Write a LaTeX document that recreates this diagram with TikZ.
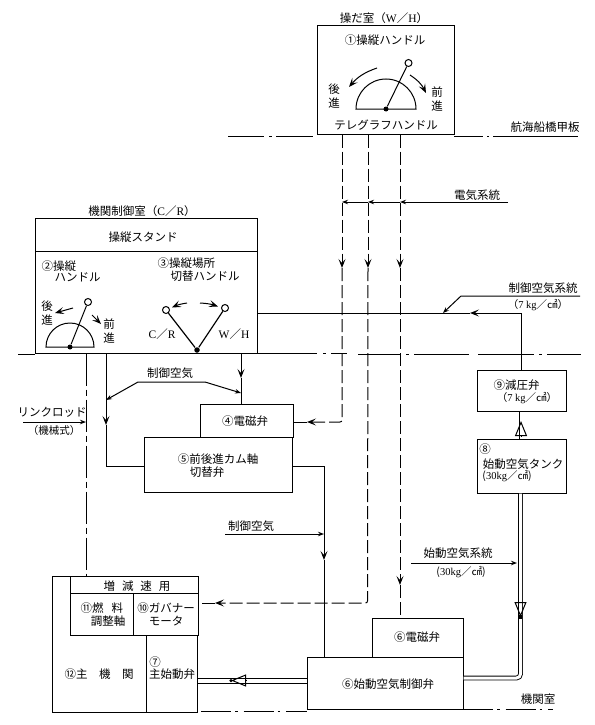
\documentclass[tikz,border=0pt]{standalone}
\usepackage{fontspec}
\usepackage{xcolor}
\usetikzlibrary{arrows.meta, positioning, calc}
\setmainfont{Noto Sans CJK JP}
\newfontfamily\latn{Liberation Serif}
\tikzstyle{plate} = [rectangle, draw, inner sep=0pt, fill=white, line width=1pt]
\tikzstyle{lbl}   = [inner sep=0pt, align=center, font=\fontsize{11.5}{14.5}\selectfont]
\tikzstyle{small} = [inner sep=0pt, align=center, font=\fontsize{10.5}{12}\selectfont]
\tikzstyle{vee}   = [-{Stealth[length=9pt,width=7pt,inset=4pt]}]
\tikzstyle{tick}  = [-{Stealth[length=6pt,width=4.5pt]}]

\begin{document}
\begin{tikzpicture}[
  x=1pt, y=-1pt, line width=1pt,
  elec/.style={dash pattern=on 13pt off 4pt},
  deckline/.style={dash pattern=#1},
  deckshort/.style={dash pattern=on 30pt off 4pt on 2.5pt off 6pt},
  rodline/.style={dash pattern=on 32pt off 4pt on 6pt off 4pt},
  pipe/.style={double, double distance=3pt, line width=0.9pt},
  hollow/.style={-{Triangle[open,length=15pt,width=12pt]}},
  knob/.style={circle, draw, fill=white, inner sep=0pt, minimum size=7pt},
  hub/.style={circle, fill=black, inner sep=0pt, minimum size=5pt}
]
  \useasboundingbox (0,0) rectangle (594,725);

  % Deck lines
  \coordinate (deckAl) at (228,136);
  \coordinate (deckAm) at (313,136);
  \coordinate (deckAr) at (454,136);
  \coordinate (deckAe) at (578,136);
  \coordinate (deckBl) at (18,354);
  \coordinate (deckBm) at (347,353);
  \coordinate (deckBn) at (358,354);
  \coordinate (deckBe) at (581,354);
  \coordinate (deckCa) at (201,711);
  \coordinate (deckCb) at (463,709);
  \coordinate (deckCe) at (553,709);
  \draw[deckline={on 36pt off 5pt on 3pt off 4pt on 60pt off 1pt}] (deckAl) -- (deckAm);
  \draw[deckline={on 29pt off 4pt on 2pt off 4pt on 100pt off 1pt}] (deckAr) -- (deckAe);
  \draw (deckBl) -- (35,354);
  \draw[deckline={on 60pt off 6pt on 3pt off 5pt on 30pt off 1pt}] (257,353) -- (deckBm);
  \draw[deckline={on 42pt off 6pt on 3pt off 5pt on 55pt off 9pt on 56pt off 5pt on 3pt off 5pt on 40pt off 1pt}] (deckBn) -- (deckBe);
  \draw[deckshort] (deckCa) -- (307,711);
  \draw[deckshort] (deckCb) -- (deckCe);

  % Bridge stand
  \node[plate, minimum width=137pt, minimum height=108pt] (bridge) at (385.5,80) {};
  \node[lbl] (bridgeT) at (384,18) {操だ室（{\latn W}／{\latn H}）};
  \node[lbl] (bridgeH) at (385,40) {①操縦ハンドル};
  \node[lbl] (bridgeN) at (386,125) {テレグラフハンドル};
  \node[lbl] (bridgeB) at (334,96) {後\\進};
  \node[lbl] (bridgeF) at (437,99) {前\\進};
  \draw (356,109) arc[start angle=180, end angle=0, radius=30pt] -- cycle;
  \node[hub] (bridgeHub) at (386,109) {};
  \node[knob] (bridgeKnob) at (408.5,63) {};
  \draw (bridgeHub) -- (bridgeKnob);
  \coordinate (ba1) at (377,68); \coordinate (ba2) at (349,87);
  \coordinate (ba3) at (410,75); \coordinate (ba4) at (426,93);
  \draw[vee] (ba1) to[bend right=15] (ba2);
  \draw[vee] (ba3) to[bend left=15] (ba4);

  % Control room stand
  \node[plate, minimum width=222pt, minimum height=135pt] (stand) at (146,285.5) {};
  \node[plate, minimum width=222pt, minimum height=33pt] (standTop) at (146,234.5) {};
  \node[lbl] (standT) at (142,211) {機関制御室（{\latn C}／{\latn R}）};
  \node[lbl] (standN) at (143,237) {操縦スタンド};
  \node[lbl, anchor=west] (standHa) at (41,266) {②操縦};
  \node[lbl, anchor=west] (standHb) at (54,277.5) {ハンドル};
  \node[lbl, anchor=west] (standSa) at (157,263) {③操縦場所};
  \node[lbl, anchor=west] (standSb) at (170,276) {切替ハンドル};
  \node[lbl] (standB) at (47,313) {後\\進};
  \node[lbl] (standF) at (109,331) {前\\進};
  \draw (46,347) arc[start angle=180, end angle=0, radius=24pt] -- cycle;
  \node[hub] (standHub) at (70,347) {};
  \node[knob] (standKnob) at (88,302) {};
  \draw (standHub) -- (standKnob);
  \coordinate (sa1) at (73,308); \coordinate (sa2) at (55,313);
  \coordinate (sa3) at (92,315); \coordinate (sa4) at (101,324);
  \draw[vee] (sa1) -- (sa2);
  \draw[vee] (sa3) -- (sa4);

  \node[hub, minimum size=5.5pt] (vHub) at (197,350) {};
  \node[knob] (vLeft) at (166,310) {};
  \node[knob] (vRight) at (225,308) {};
  \draw[line width=1.2pt] (vHub) -- (vLeft);
  \draw[line width=1.2pt] (vHub) -- (vRight);
  \coordinate (va1) at (187,303); \coordinate (va2) at (172,307.5);
  \coordinate (va3) at (200,303); \coordinate (va4) at (218,306.5);
  \draw[vee] (va1) to[bend right=8] (va2);
  \draw[vee] (va3) to[bend left=8] (va4);
  \node[lbl] (vCR) at (162,334) {{\latn C}／{\latn R}};
  \node[lbl] (vWH) at (234,334) {{\latn W}／{\latn H}};

  % Valves
  \node[plate, minimum width=93pt, minimum height=33pt] (sol) at (246.5,420.5) {};
  \node[lbl] (solN) at (245,421) {④電磁弁};
  \node[plate, minimum width=148pt, minimum height=55pt] (cam) at (218,464.5) {};
  \node[lbl] (camA) at (218,459) {⑤前後進カム軸};
  \node[lbl] (camB) at (207,472) {切替弁};

  \node[plate, minimum width=89pt, minimum height=41pt] (reducer) at (521.5,390.5) {};
  \node[lbl, anchor=west] (reducerA) at (493,385) {⑨減圧弁};
  \node[small] (reducerB) at (527,398) {（{\latn 7 kg}／㎠）};
  \node[plate, minimum width=89pt, minimum height=54pt] (tank) at (521.5,466) {};
  \node[lbl] (tankA) at (485,449) {⑧};
  \node[lbl] (tankB) at (523,464) {始動空気タンク};
  \node[small] (tankC) at (507,476.5) {({\latn 30kg}／㎠)};

  \node[plate, minimum width=91pt, minimum height=39pt] (startSol) at (417.5,637.5) {};
  \node[lbl] (startSolN) at (417,637) {⑥電磁弁};
  \node[plate, minimum width=156pt, minimum height=52pt] (startCtl) at (385,683) {};
  \node[lbl] (startCtlN) at (388,684) {⑥始動空気制御弁};

  % Main engine
  \node[plate, minimum width=145.5pt, minimum height=136pt] (engine) at (124.75,644) {};
  \node[plate, minimum width=128pt, minimum height=17pt] (speed) at (134,584.5) {};
  \node[plate, minimum width=63pt, minimum height=42pt] (shaft) at (101.5,614) {};
  \node[plate, minimum width=65pt, minimum height=42pt] (gov) at (165.5,614) {};
  \node[plate, minimum width=51.5pt, minimum height=77pt] (mainValve) at (171.75,673.5) {};
  \node[lbl] (speedN) at (137,586) {増\hspace{0.6em}減\hspace{0.6em}速\hspace{0.6em}用};
  \node[lbl, anchor=west] (shaftA) at (80,608) {⑪燃\hspace{0.7em}料};
  \node[lbl] (shaftB) at (108,621) {調整軸};
  \node[lbl] (govA) at (166,608) {⑩ガバナー};
  \node[lbl] (govB) at (166,621) {モータ};
  \node[lbl] (engineN) at (99,674) {⑫主\hspace{1em}機\hspace{1em}関};
  \node[lbl] (mainValveA) at (155,662) {⑦};
  \node[lbl] (mainValveB) at (172,674) {主始動弁};

  % Electric signal lines
  \coordinate (e1) at (342,268); \coordinate (e2) at (368,268); \coordinate (e3) at (400,268);
  \coordinate (e1c) at (342,422); \coordinate (e1t) at (307,422);
  \coordinate (e2c) at (367.5,603); \coordinate (e2t) at (215,603); \coordinate (e2e) at (200,603);
  \coordinate (e3t) at (400,585);
  \draw[elec, vee] (bridge.south -| e1) -- (e1);
  \draw[elec, vee] (bridge.south -| e2) -- (e2);
  \draw[elec, vee] (bridge.south -| e3) -- (e3);
  \draw[elec, vee, rounded corners=2pt] (e1) -- (e1c) -- (e1t);
  \draw[elec] (e1t) -- (sol.east |- e1t);
  \draw[elec, vee, rounded corners=2pt] (e2) -- (e2c) -- (e2t);
  \draw[elec] (e2t) -- (e2e);
  \draw[elec, vee] (e3) -- (e3t);
  \draw[elec] (e3t) -- (startSol.north -| e3t);

  \node[lbl] (elecN) at (477,195) {電気系統};
  \coordinate (elecS) at (508,202);
  \coordinate (elecA) at (400,202); \coordinate (elecB) at (368,202); \coordinate (elecC) at (342,202);
  \draw[tick] (elecS) -- (elecA);
  \draw[tick] (elecA) -- (elecB);
  \draw[tick] (elecB) -- (elecC);

  % Control air
  \coordinate (airC) at (521,313); \coordinate (airT) at (470,313);
  \draw (reducer.north -| airC) -- (airC);
  \draw[vee] (airC) -- (airT);
  \draw (airT) -- (stand.east |- airT);
  \node[lbl] (airN) at (543,288) {制御空気系統};
  \node[small] (airV) at (538,305) {（{\latn 7 kg}／㎠）};
  \coordinate (airLa) at (580,296); \coordinate (airLb) at (461,296); \coordinate (airLc) at (443,313);
  \draw[tick] (airLa) -- (airLb) -- (airLc);

  \coordinate (toSol) at (241,378);
  \draw[vee] (stand.south -| toSol) -- (toSol);
  \draw (toSol) -- (sol.north -| toSol);
  \coordinate (toCam) at (106,425); \coordinate (camIn) at (106,466);
  \draw[vee] (stand.south -| toCam) -- (toCam);
  \draw (toCam) -- (camIn) -- (cam.west |- camIn);
  \node[lbl] (ctlN) at (170,373) {制御空気};
  \coordinate (ctlLa) at (138,382); \coordinate (ctlLb) at (205,382);
  \coordinate (ctlLc) at (106,400); \coordinate (ctlLd) at (241,393);
  \draw[tick] (ctlLa) -- (ctlLc);
  \draw[tick] (ctlLa) -- (ctlLb) -- (ctlLd);

  \coordinate (camOut) at (324,466); \coordinate (camDown) at (324,560);
  \draw (cam.east |- camOut) -- (camOut);
  \draw[vee] (camOut) -- (camDown);
  \draw (camDown) -- (startCtl.north -| camDown);
  \node[lbl] (ctlNb) at (251,526) {制御空気};
  \coordinate (ctlMa) at (225,534); \coordinate (ctlMb) at (324,534);
  \draw[tick] (ctlMa) -- (ctlMb);

  % Link rod
  \coordinate (rod) at (86,422);
  \draw[rodline] (stand.south -| rod) -- (speed.north -| rod);
  \node[lbl] (rodA) at (52,412) {リンクロッド};
  \node[small] (rodB) at (54,431) {（機械式）};
  \coordinate (rodS) at (23,422);
  \draw[tick] (rodS) -- (rod);

  % Starting air
  \coordinate (pipeB) at (520.5,678);
  \coordinate (pipeN) at (240,678); \coordinate (pipeM) at (240,683); \coordinate (pipeU) at (521,421);
  \coordinate (pipeUb) at (521,436); \coordinate (pipeAa) at (520.5,602); \coordinate (pipeAb) at (520.5,617);
  \coordinate (pipeMa) at (246,680.5); \coordinate (pipeMb) at (231,680.5);
  \draw[pipe] (tank.north -| pipeU) -- (reducer.south -| pipeU);
  \draw[pipe, rounded corners=4pt] (tank.south -| pipeB) -- (pipeB) -- (startCtl.east |- pipeB);
  \draw (startCtl.west |- pipeN) -- (mainValve.east |- pipeN);
  \draw (startCtl.west |- pipeM) -- (mainValve.east |- pipeM);
  \draw[hollow] (pipeUb) -- (pipeU);
  \draw[hollow] (pipeAa) -- (pipeAb);
  \draw[hollow] (pipeMa) -- (pipeMb);
  \node[hub, rectangle, minimum size=3.5pt] (pipeDotA) at (pipeAb) {};
  \node[hub, minimum size=3.5pt] (pipeDotB) at (pipeMb) {};
  \node[lbl] (startN) at (458,553) {始動空気系統};
  \node[small] (startV) at (461,572) {({\latn 30kg}／㎠)};
  \coordinate (startLa) at (411,563); \coordinate (startLb) at (517,563);
  \draw[tick] (startLa) -- (startLb);

  % Deck names
  \node[lbl] (deckAn) at (545,127) {航海船橋甲板};
  \node[lbl] (deckCn) at (538,699) {機関室};
\end{tikzpicture}
\end{document}
